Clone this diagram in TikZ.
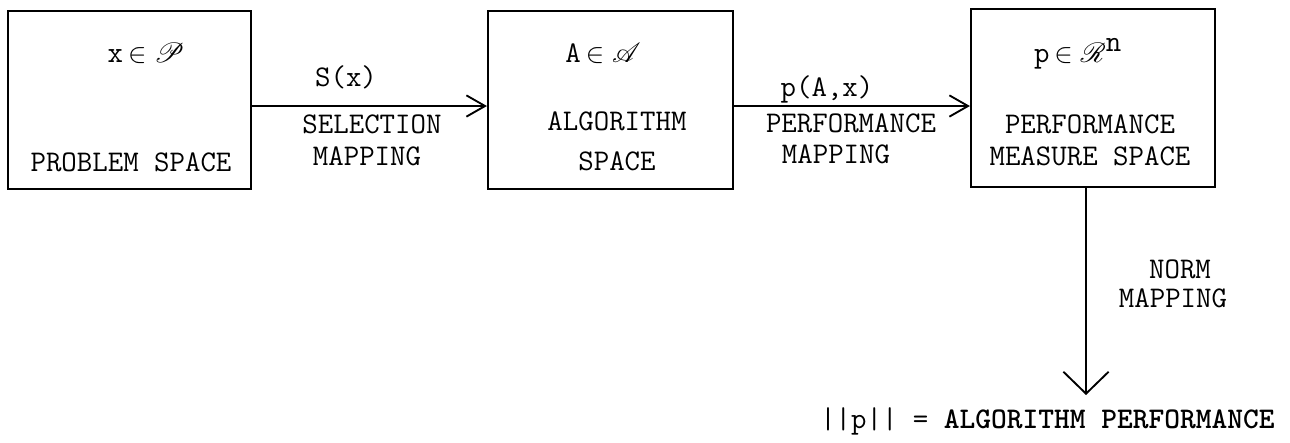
\documentclass[tikz,border=0pt]{standalone}
\usepackage{mathrsfs}
\usetikzlibrary{arrows.meta}
\begin{document}
\begin{tikzpicture}[x=0.75pt,y=-0.75pt,
  every node/.style={font=\fontsize{22.5}{27}\selectfont\ttfamily, inner sep=0pt},
  spacebox/.style={draw, line width=1.6pt, minimum width=#1*0.75pt, minimum height=133.5pt},
  lbl/.style={anchor=base},
  conn/.style={line width=1.4pt, -{Straight Barb[length=14pt,width=16pt,line width=1.4pt]}},
  bigconn/.style={line width=1.4pt, -{Straight Barb[length=16.5pt,width=34pt,line width=1.4pt]}}]
\useasboundingbox (0,0) rectangle (1290,443);
% boxes
\node[spacebox=243] (b1) at (129.5,100) {};
\node[spacebox=245] (b2) at (610.5,100) {};
\node[spacebox=244] (b3) at (1093,98) {};
% box texts
\node[lbl] (t1a) at (146,62) {x\,$\in\mathscr{P}$};
\node[lbl] (t1b) at (131,171) {PROBLEM SPACE};
\node[lbl] (t2a) at (603,62) {A\,$\in\mathscr{A}$};
\node[lbl] (t2b) at (617,130) {ALGORITHM};
\node[lbl] (t2c) at (617,170) {SPACE};
\node[lbl] (t3a) at (1078,62) {p\,$\in\mathscr{R}^{\mbox{\ttfamily n}}$};
\node[lbl] (t3b) at (1090,133) {PERFORMANCE};
\node[lbl] (t3c) at (1090,165) {MEASURE SPACE};
% connectors
\coordinate (ay) at (0,106);
\draw[conn] (b1.east|-ay) -- (b2.west|-ay);
\draw[conn] (b2.east|-ay) -- (b3.west|-ay);
\coordinate (vx) at (1086,0);
\coordinate (tip) at (1086,395);
\draw[bigconn] (b3.south-|vx) -- (tip);
% connector labels
\node[lbl] (s) at (346,86) {S(x)};
\node[lbl] (s1) at (372,133) {SELECTION};
\node[lbl] (s2) at (367,165) {MAPPING};
\node[lbl] (p) at (827,96) {p(A,x)};
\node[lbl] (p1) at (851,132) {PERFORMANCE};
\node[lbl] (p2) at (836,163) {MAPPING};
\node[lbl] (n1) at (1180,278) {NORM};
\node[lbl] (n2) at (1173,307) {MAPPING};
% result
\node[anchor=base west] (res) at (820,428) {||p|| = \bfseries ALGORITHM PERFORMANCE};
\end{tikzpicture}
\end{document}
